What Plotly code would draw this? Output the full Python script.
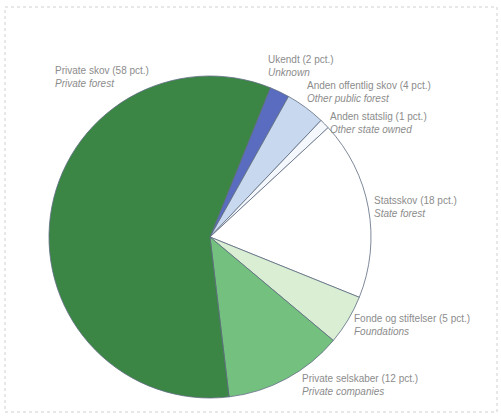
import plotly.graph_objects as go

labels_da = ["Ukendt", "Anden offentlig skov", "Anden statslig", "Statsskov",
             "Fonde og stiftelser", "Private selskaber", "Private skov"]
labels_en = ["Unknown", "Other public forest", "Other state owned", "State forest",
             "Foundations", "Private companies", "Private forest"]
values = [2, 4, 1, 18, 5, 12, 58]
colors = ["#5a6cbf", "#c8d8ee", "#f4f7fb", "#ffffff", "#d9eed3", "#74c07e", "#3c8645"]

# label anchor positions in pixels (left, vertical centre of block)
label_pos = [(266, 66), (305, 92), (328, 123), (372, 207),
             (352, 325), (300, 385), (53, 77)]

W, H = 501, 419
cx, cy, r = 210, 237, 161

fig = go.Figure(go.Pie(
    labels=labels_da, values=values, sort=False, direction="clockwise",
    rotation=22, marker=dict(colors=colors, line=dict(color="#5d6b80", width=0.8)),
    textinfo="none", hoverinfo="label+percent", showlegend=False,
    domain=dict(x=[(cx - r) / W, (cx + r) / W],
                y=[(H - cy - r) / H, (H - cy + r) / H]),
))

for da, en, v, (px, py) in zip(labels_da, labels_en, values, label_pos):
    fig.add_annotation(
        x=px / W, y=1 - py / H, xref="paper", yref="paper",
        xanchor="left", yanchor="middle", align="left", showarrow=False,
        text=f"{da} ({v} pct.)<br><i>{en}</i>",
        font=dict(family="Liberation Sans, Arial", size=10, color="#8c8c8c"),
    )

fig.add_shape(type="rect", xref="paper", yref="paper",
              x0=5 / W, x1=497 / W, y0=1 - 412 / H, y1=1 - 7 / H,
              line=dict(color="#d0d0d0", width=1, dash="dot"))

fig.update_layout(width=W, height=H, margin=dict(l=0, r=0, t=0, b=0),
                  paper_bgcolor="white", plot_bgcolor="white")

fig.write_html("out.html", config={"displayModeBar": False},
               post_script="document.body.style.margin='0';")
